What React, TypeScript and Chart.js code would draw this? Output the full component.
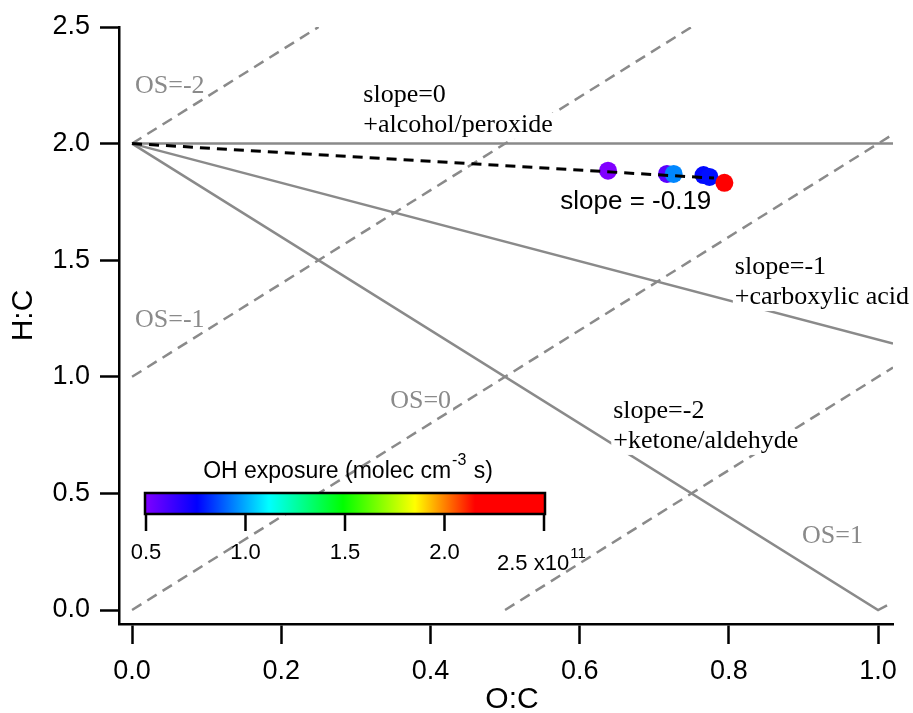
import React, { useEffect, useRef } from "react";
import { Chart, registerables } from "chart.js";

Chart.register(...registerables);

// ---------- data ----------
const xTicks = [0, 0.2, 0.4, 0.6, 0.8, 1.0];
const yTicks = [0, 0.5, 1.0, 1.5, 2.0, 2.5];
const xMin = -0.0175;
const xMax = 1.02;
const yMin = -0.06;
const yMax = 2.5;
const xTitle = "O:C";
const yTitle = "H:C";

// measured O:C / H:C points and their OH exposure (x10^11 molec cm-3 s)
const ocValues = [0.638, 0.717, 0.726, 0.766, 0.774, 0.794];
const hcValues = [1.884, 1.87, 1.87, 1.865, 1.857, 1.832];
const ohExposure = [0.5, 0.58, 0.95, 0.77, 0.78, 2.4];

// fitted line (slope = -0.19)
const fitX = [0, 0.78];
const fitY = [2.0, 1.852];

// functional group reference lines
const slope0X = [0, 1.02];
const slope0Y = [2.0, 2.0];
const slopeM1X = [0, 1.02];
const slopeM1Y = [2.0, 1.143];
const slopeM2X = [0, 1.0, 1.012];
const slopeM2Y = [2.0, 0.0, 0.02];

// oxidation state lines
const osM2X = [0, 0.25];
const osM2Y = [2.0, 2.5];
const osM1X = [0, 0.75];
const osM1Y = [1.0, 2.5];
const os0X = [0, 1.02];
const os0Y = [0.0, 2.04];
const os1X = [0.5, 1.02];
const os1Y = [0.0, 1.04];

// colour scale
const cmapValues = [0.5, 0.76, 1.12, 1.49, 1.85, 2.15, 2.5];
const cmapColors = ["#8000ff", "#0000ff", "#00ffff", "#00ff00", "#ffff00", "#ff0000", "#ff0000"];
const cbarTicks = [0.5, 1.0, 1.5, 2.0, 2.5];
const cbarTickLabels = ["0.5", "1.0", "1.5", "2.0", "2.5"];
const cbarTitle = "OH exposure (molec cm";
const cbarTitleSup = "-3";
const cbarTitleEnd = " s)";
const cbarUnitBase = " x10";
const cbarUnitSup = "11";

// annotation texts
const annotTexts = [
  "slope=0",
  "+alcohol/peroxide",
  "slope=-1",
  "+carboxylic acid",
  "slope=-2",
  "+ketone/aldehyde",
  "OS=-2",
  "OS=-1",
  "OS=0",
  "OS=1",
  "slope = -0.19",
];

// ---------- layout / style ----------
const W = 913;
const H = 713;
const GRAY = "#8a8a8a";
const SANS = "'Liberation Sans', Arial, sans-serif";
const SERIF = "'Liberation Serif', 'Times New Roman', serif";

// annotation anchors (data coordinates, left / baseline) and styles
const annotLayout = [
  { x: 0.31, y: 2.178, font: `26px ${SERIF}`, color: "#000", bg: true },
  { x: 0.31, y: 2.05, font: `26px ${SERIF}`, color: "#000", bg: true },
  { x: 0.808, y: 1.441, font: `26px ${SERIF}`, color: "#000", bg: true },
  { x: 0.808, y: 1.312, font: `26px ${SERIF}`, color: "#000", bg: true },
  { x: 0.645, y: 0.823, font: `26px ${SERIF}`, color: "#000", bg: true },
  { x: 0.645, y: 0.695, font: `26px ${SERIF}`, color: "#000", bg: true },
  { x: 0.004, y: 2.217, font: `26px ${SERIF}`, color: GRAY, bg: true },
  { x: 0.004, y: 1.213, font: `26px ${SERIF}`, color: GRAY, bg: true },
  { x: 0.346, y: 0.866, font: `26px ${SERIF}`, color: GRAY, bg: true },
  { x: 0.898, y: 0.287, font: `26px ${SERIF}`, color: GRAY, bg: true },
  { x: 0.574, y: 1.72, font: `26px ${SANS}`, color: "#000", bg: false },
];

// colour bar box in canvas pixels
const CBAR = { left: 145, top: 493, width: 400, height: 21 };

function hexToRgb(h: string) {
  const n = parseInt(h.slice(1), 16);
  return [(n >> 16) & 255, (n >> 8) & 255, n & 255];
}

function colorFor(v: number) {
  if (v <= cmapValues[0]) return cmapColors[0];
  for (let i = 1; i < cmapValues.length; i++) {
    if (v <= cmapValues[i]) {
      const t = (v - cmapValues[i - 1]) / (cmapValues[i] - cmapValues[i - 1]);
      const a = hexToRgb(cmapColors[i - 1]);
      const b = hexToRgb(cmapColors[i]);
      const c = a.map((av, k) => Math.round(av + (b[k] - av) * t));
      return `rgb(${c[0]},${c[1]},${c[2]})`;
    }
  }
  return cmapColors[cmapColors.length - 1];
}

const xy = (xs: number[], ys: number[]) => xs.map((x, i) => ({ x, y: ys[i] }));

const annotPlugin = {
  id: "annotations",
  afterDatasetsDraw(chart: any) {
    const { ctx, scales, chartArea } = chart;
    const sx = scales.x;
    const sy = scales.y;
    ctx.save();
    ctx.textAlign = "left";
    ctx.textBaseline = "alphabetic";
    annotTexts.forEach((text, i) => {
      const a = annotLayout[i];
      const px = sx.getPixelForValue(a.x);
      const py = sy.getPixelForValue(a.y);
      ctx.font = a.font;
      if (a.bg) {
        const m = ctx.measureText(text);
        ctx.fillStyle = "#ffffff";
        ctx.fillRect(
          px - 2,
          py - m.actualBoundingBoxAscent - 2,
          m.width + 4,
          m.actualBoundingBoxAscent + m.actualBoundingBoxDescent + 4
        );
      }
      ctx.fillStyle = a.color;
      ctx.fillText(text, px, py);
    });

    // ----- axis titles -----
    ctx.fillStyle = "#000";
    ctx.font = `30px ${SANS}`;
    ctx.textAlign = "center";
    ctx.textBaseline = "middle";
    ctx.fillText(xTitle, (chartArea.left + chartArea.right) / 2 + 6, H - 13);
    ctx.save();
    ctx.translate(23, (chartArea.top + chartArea.bottom) / 2 - 10);
    ctx.rotate(-Math.PI / 2);
    ctx.fillText(yTitle, 0, 1);
    ctx.restore();
    ctx.textBaseline = "alphabetic";

    // ----- colour bar -----
    const { left, top, width, height } = CBAR;
    const v0 = cmapValues[0];
    const v1 = cmapValues[cmapValues.length - 1];
    const grad = ctx.createLinearGradient(left, 0, left + width, 0);
    cmapValues.forEach((v, i) => grad.addColorStop((v - v0) / (v1 - v0), cmapColors[i]));
    ctx.fillStyle = grad;
    ctx.fillRect(left, top, width, height);
    ctx.strokeStyle = "#000";
    ctx.lineWidth = 2.5;
    ctx.strokeRect(left, top, width, height);

    const vx = (v: number) => left + 1 + ((v - v0) / (v1 - v0)) * (width - 2);
    ctx.beginPath();
    cbarTicks.forEach((v) => {
      const x = vx(v);
      ctx.moveTo(x, top + height);
      ctx.lineTo(x, top + height + 17);
    });
    ctx.stroke();

    ctx.fillStyle = "#000";
    ctx.font = `22px ${SANS}`;
    ctx.textAlign = "center";
    cbarTickLabels.forEach((lab, i) => {
      if (i === cbarTickLabels.length - 1) return;
      ctx.fillText(lab, vx(cbarTicks[i]), top + height + 45);
    });
    // last label with exponent
    ctx.textAlign = "left";
    const lastX = vx(cbarTicks[cbarTicks.length - 1]) - 47;
    const lastY = top + height + 56;
    const baseTxt = cbarTickLabels[cbarTickLabels.length - 1] + cbarUnitBase;
    ctx.fillText(baseTxt, lastX, lastY);
    const bw = ctx.measureText(baseTxt).width;
    ctx.font = `15px ${SANS}`;
    ctx.fillText(cbarUnitSup, lastX + bw + 1, lastY - 12);

    // title
    ctx.font = `23px ${SANS}`;
    const w1 = ctx.measureText(cbarTitle).width;
    const w3 = ctx.measureText(cbarTitleEnd).width;
    ctx.font = `16px ${SANS}`;
    const w2 = ctx.measureText(cbarTitleSup).width;
    const total = w1 + w2 + w3 + 2;
    let tx = left + width / 2 + 3 - total / 2;
    const ty = top - 15;
    ctx.font = `23px ${SANS}`;
    ctx.fillText(cbarTitle, tx, ty);
    tx += w1 + 1;
    ctx.font = `16px ${SANS}`;
    ctx.fillText(cbarTitleSup, tx, ty - 13);
    tx += w2 + 1;
    ctx.font = `23px ${SANS}`;
    ctx.fillText(cbarTitleEnd, tx, ty);
    ctx.restore();
  },
};

export default function App() {
  const ref = useRef<HTMLCanvasElement | null>(null);

  useEffect(() => {
    if (!ref.current) return;
    const grayLine = (xs: number[], ys: number[], dashed: boolean) => ({
      data: xy(xs, ys),
      showLine: true,
      borderColor: GRAY,
      borderWidth: 2.5,
      borderDash: dashed ? [11, 7] : [],
      pointRadius: 0,
      pointHoverRadius: 0,
      fill: false,
    });
    const pointColors = ohExposure.map(colorFor);
    const tickFont = { family: SANS, size: 27 };

    const chart = new Chart(ref.current, {
      type: "scatter",
      data: {
        datasets: [
          {
            data: xy(fitX, fitY),
            showLine: true,
            borderColor: "#000",
            borderWidth: 3,
            borderDash: [10, 7],
            pointRadius: 0,
            fill: false,
          },
          {
            data: xy(ocValues, hcValues),
            showLine: false,
            pointRadius: 9,
            pointBackgroundColor: pointColors,
            pointBorderColor: pointColors,
            pointBorderWidth: 0,
          },
          grayLine(slope0X, slope0Y, false),
          grayLine(slopeM1X, slopeM1Y, false),
          grayLine(slopeM2X, slopeM2Y, false),
          grayLine(osM2X, osM2Y, true),
          grayLine(osM1X, osM1Y, true),
          grayLine(os0X, os0Y, true),
          grayLine(os1X, os1Y, true),
        ] as any,
      },
      options: {
        responsive: false,
        animation: false,
        layout: { padding: { top: 27, right: 20, left: 0, bottom: 0 } },
        plugins: {
          legend: { display: false },
          tooltip: { enabled: false },
        },
        scales: {
          x: {
            type: "linear",
            min: xMin,
            max: xMax,
            afterBuildTicks: (s: any) => {
              s.ticks = xTicks.map((v) => ({ value: v }));
            },
            afterFit: (s: any) => {
              s.height = 89;
            },
            ticks: {
              callback: (v: any) => Number(v).toFixed(1),
              font: tickFont,
              color: "#000",
              padding: 11,
              maxRotation: 0,
              autoSkip: false,
            },
            grid: {
              display: true,
              drawOnChartArea: false,
              drawTicks: true,
              tickLength: 20,
              tickWidth: 2.5,
              tickColor: "#000",
            },
            border: { display: true, color: "#000", width: 2.5 },
            title: { display: false },
          },
          y: {
            type: "linear",
            min: yMin,
            max: yMax,
            afterBuildTicks: (s: any) => {
              s.ticks = yTicks.map((v) => ({ value: v }));
            },
            afterFit: (s: any) => {
              s.width = 119;
            },
            ticks: {
              callback: (v: any) => Number(v).toFixed(1),
              font: tickFont,
              color: "#000",
              padding: 10,
              autoSkip: false,
            },
            grid: {
              display: true,
              drawOnChartArea: false,
              drawTicks: true,
              tickLength: 19,
              tickWidth: 2.5,
              tickColor: "#000",
            },
            border: { display: true, color: "#000", width: 2.5 },
            title: { display: false },
          },
        },
      } as any,
      plugins: [annotPlugin],
    });
    return () => chart.destroy();
  }, []);

  return (
    <div style={{ position: "fixed", left: 0, top: 0, width: W, height: H, background: "#fff" }}>
      <canvas ref={ref} width={W} height={H} style={{ width: W, height: H, display: "block" }} />
    </div>
  );
}
